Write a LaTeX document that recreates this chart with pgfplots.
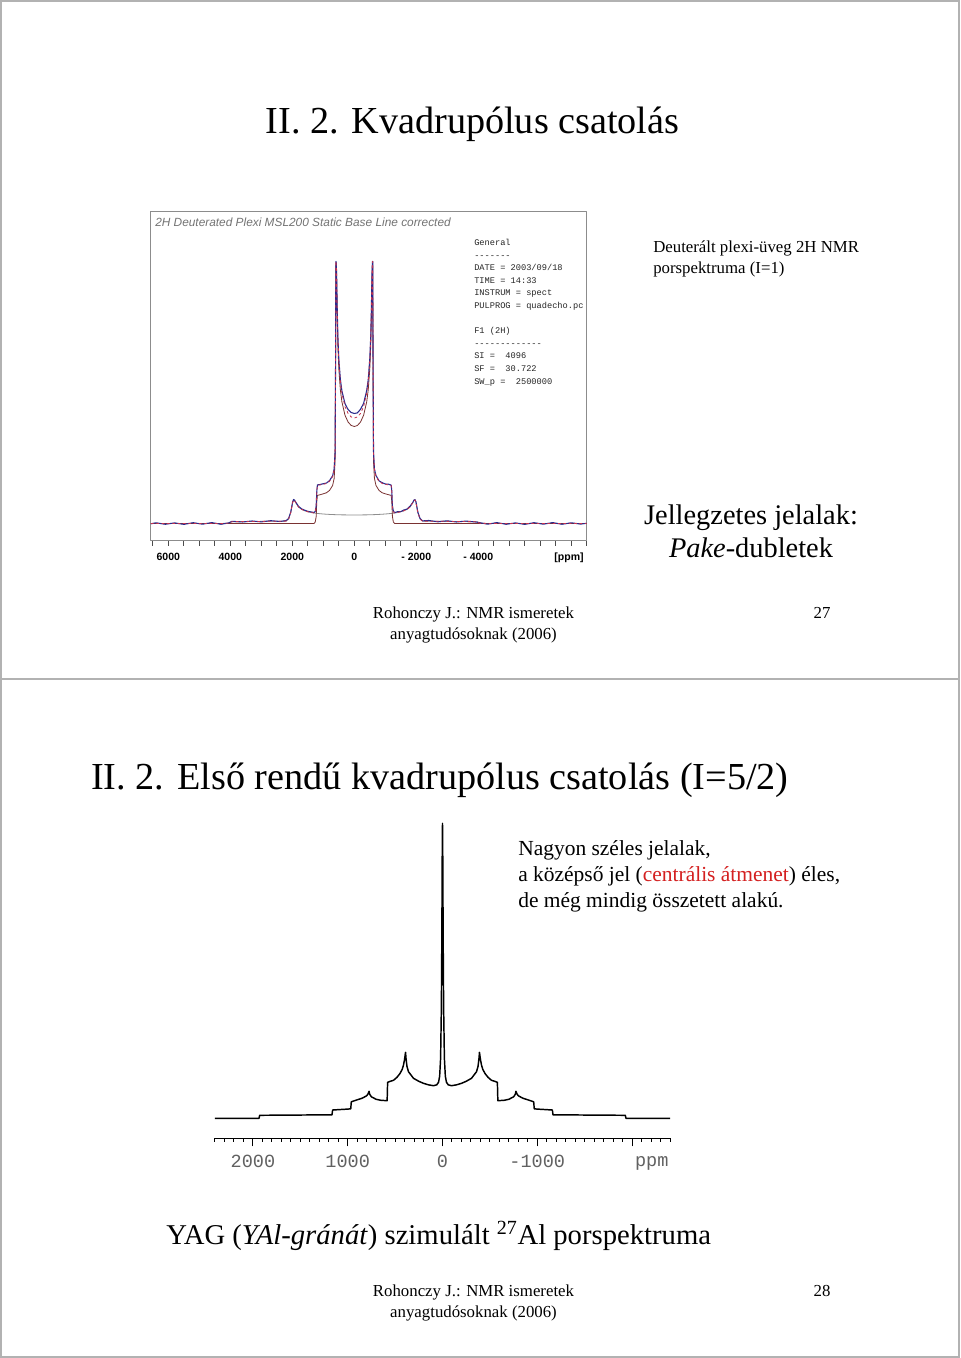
\documentclass[border=0pt]{standalone}
\usepackage{pgfplots}
\pgfplotsset{compat=1.18}
\usepackage{pgfplotstable}
\usepackage{fontspec}
\setmainfont{Liberation Serif}
\newfontfamily\arialf{Liberation Sans}
\newfontfamily\monof{Liberation Mono}[WordSpace={1,0,0}]
\definecolor{expblue}{HTML}{2A2A8C}
\definecolor{fitred}{HTML}{C8324E}
\definecolor{compbrown}{HTML}{7A3232}
\definecolor{compgray}{HTML}{8E8E8E}
\definecolor{hlred}{HTML}{D42020}

% 2H Pake spectrum: x(ppm)  brown  gray  fit  experimental
\pgfplotstableread{
x B G F E
6560 0 0 0 -0.3
6400 0 0 0 0.7
6100 0 0 0 -0.8
5800 0 0 0 0.6
5500 0 0 0 -0.9
5200 0 0 0 0.8
4900 0 0 0 -0.7
4600 0 0 0 0.9
4300 0 0 0 -0.8
4050 0 0.3 0.3 0.6
3950 0 1.8 1.8 2.2
3600 0 1.9 1.9 1.5
3300 0 2.0 2.0 2.5
3000 0 2.1 2.1 1.6
2700 0 2.2 2.2 2.8
2400 0 2.3 2.3 2.0
2200 0 2.4 2.4 2.9
2120 0 4.5 4.5 5.0
2050 0 11.0 11.0 11.6
1990 0 21.0 21.0 21.5
1960 0 23.5 23.5 24.0
1930 0 23.0 23.0 23.4
1880 0 20.4 20.4 20.9
1800 0 16.5 16.5 17.1
1700 0 14.1 14.1 14.6
1600 0 12.7 12.7 13.3
1500 0 11.7 11.7 12.1
1400 0 11.0 11.0 11.6
1300 0 10.5 10.5 11.0
1260 1.5 10.3 11.8 12.2
1230 7.0 10.15 17.2 17.6
1210 22.0 10.1 32.1 32.4
1190 28.1 10.05 38.2 38.6
1100 28.8 9.75 38.6 39.0
1000 29.7 9.48 39.2 39.8
900 30.7 9.27 40.0 40.4
800 33.0 9.08 42.1 42.9
700 38.0 8.93 46.9 47.6
650 45.0 8.87 53.9 54.6
620 62.0 8.84 70.8 71.4
605 150.0 8.82 158.8 159.3
595 258.0 8.8 262.0 262.0
585 258.0 8.8 262.0 262.0
570 240.0 8.78 248.8 249.2
550 203.2 8.75 212.0 212.6
530 177.4 8.7 186.1 187.2
500 154.6 8.7 163.3 164.6
450 133.7 8.65 142.4 144.2
400 121.6 8.63 130.2 132.6
300 108.2 8.6 116.8 119.8
200 101.4 8.55 110.0 113.9
100 98.0 8.5 106.5 111.0
0 97.0 8.5 105.5 110.0
-100 98.0 8.5 106.5 110.6
-200 101.4 8.55 110.0 114.2
-300 108.2 8.6 116.8 120.1
-400 121.6 8.63 130.2 132.9
-450 133.7 8.65 142.4 143.9
-500 154.6 8.7 163.3 164.9
-530 177.4 8.7 186.1 186.8
-550 203.2 8.75 212.0 212.9
-570 240.0 8.78 248.8 249.0
-585 258.0 8.8 262.0 262.0
-595 258.0 8.8 262.0 262.0
-605 150.0 8.82 158.8 159.0
-620 62.0 8.84 70.8 71.7
-650 45.0 8.87 53.9 54.3
-700 38.0 8.93 46.9 47.9
-800 33.0 9.08 42.1 42.6
-900 30.7 9.27 40.0 40.8
-1000 29.7 9.48 39.2 39.5
-1100 28.8 9.75 38.6 39.3
-1190 28.1 10.05 38.2 38.4
-1210 22.0 10.1 32.1 32.6
-1230 7.0 10.15 17.2 17.4
-1260 1.5 10.3 11.8 12.5
-1300 0 10.5 10.5 10.8
-1400 0 11.0 11.0 11.9
-1500 0 11.7 11.7 11.9
-1600 0 12.7 12.7 13.5
-1700 0 14.1 14.1 14.4
-1800 0 16.5 16.5 17.3
-1880 0 20.4 20.4 20.7
-1930 0 23.0 23.0 23.6
-1960 0 23.5 23.5 23.8
-1990 0 21.0 21.0 21.7
-2050 0 11.0 11.0 11.3
-2120 0 4.5 4.5 5.2
-2200 0 2.4 2.4 2.6
-2400 0 2.3 2.3 3.0
-2700 0 2.2 2.2 1.7
-3000 0 2.1 2.1 2.7
-3300 0 2.0 2.0 1.5
-3600 0 1.9 1.9 2.4
-3950 0 1.8 1.8 1.4
-4050 0 0.3 0.3 0.8
-4300 0 0 0 -0.7
-4600 0 0 0 0.9
-4900 0 0 0 -0.8
-5200 0 0 0 0.6
-5500 0 0 0 -0.9
-5800 0 0 0 0.8
-6100 0 0 0 -0.7
-6400 0 0 0 0.9
-6700 0 0 0 -0.8
-7000 0 0 0 0.7
-7300 0 0 0 -0.6
-7500 0 0 0 0.2
}\pakedata

% 27Al YAG simulated spectrum: x(ppm) intensity
\pgfplotstableread{
x y
2400 0
1935 0
1929 3.0
1600 3.2
1166 3.5
1159 8.3
1000 9.2
968 9.5
962 16.5
900 18.5
850 20.0
800 22.5
785 24.5
775 27.0
768 24.0
750 21.5
700 19.0
650 18.0
584 17.6
579 36.0
550 37.0
517 38.0
480 41.0
447 45.0
425 49.0
412 53.0
400 59.0
390 66.0
385 60.0
375 52.0
359 46.6
330 43.0
306 40.0
250 37.0
201 35.0
150 33.5
95 32.6
60 33.5
42 36.0
30 42.0
20 60.0
12 110.0
7 180.0
3 260.0
0 295.0
-3 260.0
-7 180.0
-12 110.0
-20 60.0
-30 42.0
-42 36.0
-60 33.5
-95 32.6
-150 33.5
-201 35.0
-250 37.0
-306 40.0
-330 43.0
-359 46.6
-375 52.0
-385 60.0
-390 66.0
-400 59.0
-412 53.0
-425 49.0
-447 45.0
-480 41.0
-517 38.0
-550 37.0
-579 36.0
-584 17.6
-650 18.0
-700 19.0
-750 21.5
-768 24.0
-775 27.0
-785 24.5
-800 22.5
-850 20.0
-900 18.5
-962 16.5
-968 9.5
-1000 9.2
-1159 8.3
-1166 3.5
-1600 3.2
-1929 3.0
-1935 0
-2400 0
}\yagdata

\begin{document}
\begin{tikzpicture}
\begin{scope}[x=0.75pt,y=0.75pt]
\useasboundingbox (0,0) rectangle (960,1358);
\fill[white] (0,0) rectangle (960,1358);
\draw[black!30, line width=1.2pt] (1,679) rectangle (959,1357);
\draw[black!30, line width=1.2pt] (1,1) rectangle (959,679);
\end{scope}

% ---------- top spectrum ----------
\begin{axis}[at={(113.25pt,612.75pt)}, anchor=south west, scale only axis,
  width=326.8pt, height=246.75pt,
  x dir=reverse, xmin=-7500, xmax=6560, ymin=-17.5, ymax=311.5,
  ytick=\empty,
  xtick={6000,4000,2000,0,-2000,-4000},
  xticklabels={6000,4000,2000,0,- 2000,- 4000},
  minor xtick={-7500,-7000,...,6500},
  xtick pos=left, tick align=outside,
  major tick length=3.75pt, minor tick length=3.75pt,
  every tick/.style={black!70, line width=0.6pt},
  axis line style={black!45, line width=0.75pt},
  xticklabel style={font=\arialf\bfseries\fontsize{7.9}{9}\selectfont, inner sep=1pt, yshift=-4.3pt},
  line join=round]
\addplot[compgray, line width=0.6pt] table[x=x, y=G] {\pakedata};
\addplot[compbrown, line width=0.6pt] table[x=x, y=B] {\pakedata};
\addplot[expblue, line width=0.8pt] table[x=x, y=E] {\pakedata};
\addplot[fitred, line width=0.6pt, dash pattern=on 2pt off 2pt] table[x=x, y=F] {\pakedata};
\end{axis}

% ---------- bottom spectrum ----------
\begin{axis}[at={(161.25pt,164.775pt)}, anchor=south west, scale only axis,
  width=341.25pt, height=237pt,
  x dir=reverse, xmin=-2400, xmax=2400, ymin=-20, ymax=296,
  axis x line=bottom, axis y line=none,
  axis line style={-, line width=1pt},
  xtick={2000,1000,0,-1000,-2000},
  xticklabels={2000,1000,0,-1000,{}},
  minor xtick={-2400,-2300,...,2400},
  tick align=outside, major tick length=6pt, minor tick length=2.6pt,
  every tick/.style={black, line width=0.75pt},
  xticklabel style={font=\monof\fontsize{13.9}{16}\selectfont, text=black!62, yshift=-3.2pt},
  line join=round]
\addplot[black, line width=1.1pt] table[x=x, y=y] {\yagdata};
\end{axis}

\begin{scope}[x=0.75pt,y=0.75pt, every node/.style={inner sep=0pt}]
% slide 1 texts
\node[anchor=base, font=\fontsize{28.65}{34}\selectfont] at (472.5,1224) {II. 2. Kvadrupólus csatolás};
\node[anchor=base west, font=\fontsize{12.6}{15}\selectfont] at (653,1105.5) {Deuterált plexi-üveg 2H NMR};
\node[anchor=base west, font=\fontsize{12.6}{15}\selectfont] at (653,1084.5) {porspektruma (I=1)};
\node[anchor=base, font=\fontsize{21.3}{25}\selectfont] at (751,833.5) {Jellegzetes jelalak:};
\node[anchor=base, font=\fontsize{21.3}{25}\selectfont] at (751,800.5) {\textit{Pake}-dubletek};
\node[anchor=base, font=\fontsize{12.6}{15}\selectfont] at (473.5,739.5) {Rohonczy J.: NMR ismeretek};
\node[anchor=base, font=\fontsize{12.6}{15}\selectfont] at (473.5,718.5) {anyagtudósoknak (2006)};
\node[anchor=base, font=\fontsize{12.6}{15}\selectfont] at (822,739.5) {27};
% top spectrum annotations
\node[anchor=base west, text=black!55, font=\arialf\itshape\fontsize{8.9}{10}\selectfont] at (155,1131.3) {2H Deuterated Plexi MSL200 Static Base Line corrected};
\begin{scope}[every node/.style={inner sep=0pt, anchor=base west, text=black!85, font=\monof\fontsize{6.5}{7.5}\selectfont}]
\node at (474,1112.5) {General};
\node at (474,1099.9) {-------};
\node at (474,1087.3) {DATE = 2003/09/18};
\node at (474,1074.7) {TIME = 14:33};
\node at (474,1062.1) {INSTRUM = spect};
\node at (474,1049.5) {PULPROG = quadecho.pc};
\node at (474,1024.3) {F1 (2H)};
\node at (474,1011.7) {-------------};
\node at (474,999.1) {SI = ~4096};
\node at (474,986.5) {SF = ~30.722};
\node at (474,973.9) {SW\_p = ~2500000};
\end{scope}
\node[anchor=center, font=\arialf\bfseries\fontsize{7.9}{9}\selectfont] at (569,800) {[ppm]};
% slide 2 texts
\node[anchor=base west, font=\fontsize{28.65}{34}\selectfont] at (91,568.5) {II. 2. Első rendű kvadrupólus csatolás (I=5/2)};
\node[anchor=base west, font=\fontsize{16.1}{19}\selectfont] at (518,502) {Nagyon széles jelalak,};
\node[anchor=base west, font=\fontsize{16.1}{19}\selectfont] at (518,476) {a középső jel (\textcolor{hlred}{centrális átmenet}) éles,};
\node[anchor=base west, font=\fontsize{16.1}{19}\selectfont] at (518,450) {de még mindig összetett alakú.};
\node[anchor=base, text=black!62, font=\monof\fontsize{13.9}{16}\selectfont] at (651.7,191) {ppm};
\node[anchor=base west, font=\fontsize{21.5}{25}\selectfont] at (166,113) {YAG (\textit{YAl-gránát}) szimulált \textsuperscript{27}Al porspektruma};
\node[anchor=base, font=\fontsize{12.6}{15}\selectfont] at (473.5,61.5) {Rohonczy J.: NMR ismeretek};
\node[anchor=base, font=\fontsize{12.6}{15}\selectfont] at (473.5,40.5) {anyagtudósoknak (2006)};
\node[anchor=base, font=\fontsize{12.6}{15}\selectfont] at (822,61.5) {28};
\end{scope}
\end{tikzpicture}
\end{document}
